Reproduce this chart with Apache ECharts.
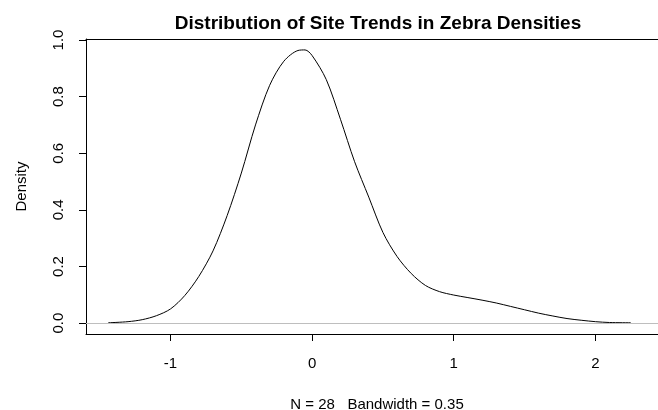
<!DOCTYPE html>
<html>
<head>
<meta charset="utf-8">
<script src="https://cdn.jsdelivr.net/npm/echarts@6/dist/echarts.min.js"></script>
<style>
    html, body { margin: 0; padding: 0; background: #fff; }
    #chart { width: 658px; height: 410px; }
</style>
</head>
<body>
<div id="chart"></div>
<script>
// density curve (x = site trend, y = density)
const densityX = [-1.44, -1.3, -1.2, -1.1, -1.0, -0.9, -0.8, -0.7, -0.6, -0.5, -0.4, -0.3, -0.2, -0.1, -0.05,
    0.0, 0.1, 0.2, 0.3, 0.4, 0.5, 0.6, 0.7, 0.8, 0.9, 1.0, 1.1, 1.2, 1.3, 1.4, 1.5, 1.6, 1.7, 1.8, 1.9, 2.0, 2.1, 2.25];
const densityY = [0.001, 0.005, 0.012, 0.026, 0.050, 0.097, 0.165, 0.255, 0.380, 0.530, 0.700, 0.840, 0.925, 0.963, 0.965,
    0.945, 0.860, 0.720, 0.570, 0.445, 0.320, 0.235, 0.175, 0.133, 0.111, 0.099, 0.090, 0.081, 0.071, 0.059, 0.047, 0.035, 0.025, 0.016, 0.010, 0.005, 0.002, 0.001];
const xTicks = [-1, 0, 1, 2];
const yTicks = [0, 0.2, 0.4, 0.6, 0.8, 1.0];

const chart = echarts.init(document.getElementById('chart'));

const font = 'Liberation Sans, Arial, sans-serif';

const option = {
    animation: false,
    textStyle: { fontFamily: font },
    title: [
        {
            text: 'Distribution of Site Trends in Zebra Densities',
            left: 373,
            top: 9,
            textAlign: 'center',
            textStyle: { fontSize: 19, fontWeight: 'bold', color: '#000', fontFamily: font },
        },
        {
            // R puts the bandwidth note under the x axis
            text: 'N = 28   Bandwidth = 0.35',
            left: 372,
            top: 392,
            textAlign: 'center',
            textStyle: { fontSize: 15, fontWeight: 'normal', color: '#000', fontFamily: font },
        },
    ],
    // the plot box runs off the right edge of the picture, so no right border
    grid: {
        show: false,
        left: 86,
        top: 39,
        right: 0,
        height: 295,
        containLabel: false,
    },
    xAxis: [
        {
            type: 'value',
            min: -1.597,
            max: 2.4425,
            axisLine: { show: true, onZero: false, lineStyle: { color: '#000', width: 1 } },
            axisTick: { show: true, inside: false, length: 7, customValues: xTicks, lineStyle: { color: '#000' } },
            axisLabel: { margin: 22, fontSize: 15, color: '#000', customValues: xTicks },
            splitLine: { show: false },
        },
        {
            // top edge of the box
            type: 'value',
            position: 'top',
            min: -1.597,
            max: 2.4425,
            axisLine: { show: true, onZero: false, lineStyle: { color: '#000', width: 1 } },
            axisTick: { show: false },
            axisLabel: { show: false },
            splitLine: { show: false },
        },
    ],
    yAxis: {
        type: 'value',
        min: -0.0386,
        max: 1.0036,
        name: 'Density',
        nameLocation: 'middle',
        nameGap: 57,
        nameRotate: 90,
        nameTextStyle: { fontSize: 15, color: '#000' },
        axisLine: { show: true, onZero: false, lineStyle: { color: '#000', width: 1 } },
        axisTick: { show: true, inside: false, length: 7, customValues: yTicks, lineStyle: { color: '#000' } },
        axisLabel: {
            margin: 20,
            rotate: 90,
            fontSize: 15,
            color: '#000',
            customValues: yTicks,
            formatter: (v) => v.toFixed(1),
        },
        splitLine: { show: false },
    },
    series: [
        {
            type: 'line',
            data: densityX.map((x, i) => [x, densityY[i]]),
            showSymbol: false,
            smooth: 0.3,
            lineStyle: { color: '#000', width: 1 },
            markLine: {
                silent: true,
                symbol: 'none',
                label: { show: false },
                lineStyle: { color: '#BEBEBE', width: 1, type: 'solid' },
                data: [{ yAxis: 0 }],
            },
        },
    ],
};

chart.setOption(option);
</script>
</body>
</html>
